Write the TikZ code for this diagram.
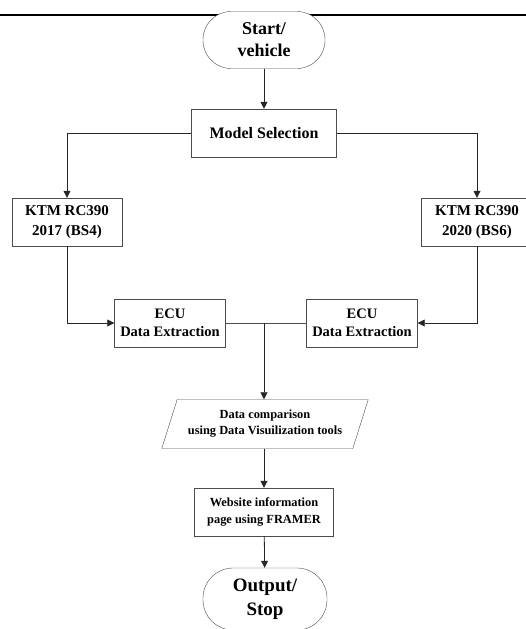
\documentclass[tikz,border=0pt]{standalone}
\usepackage{fontspec}
\setmainfont{Liberation Serif}
\usetikzlibrary{shapes, arrows.meta, positioning, calc}

\begin{document}
\begin{tikzpicture}[x=1pt, y=-1pt,
  term/.style={draw=black!70, fill=white, rounded corners=28pt, minimum width=122pt, minimum height=57pt, align=center, font=\bfseries\fontsize{18}{22}\selectfont, inner sep=2pt},
  pbox/.style={draw=black!70, fill=white, minimum height=48pt, align=center, inner sep=2pt},
  iobox/.style={draw=black!70, fill=white, trapezium, trapezium left angle=65, trapezium right angle=115, trapezium stretches=true, minimum width=207pt, minimum height=49pt, align=center, inner sep=1pt, font=\bfseries\fontsize{12.4}{16}\selectfont},
  arr/.style={-{Triangle[length=7pt, width=7pt]}, black!85, line width=0.8pt},
  lnk/.style={black!70, line width=0.8pt}
]
  \useasboundingbox (0,0) rectangle (526,629);
  \draw[line width=1.6pt] (0,15) -- (526,15);

  \node[term] (start) at (264, 40) {Start/\\vehicle};
  \node[pbox, minimum width=145pt, font=\bfseries\fontsize{16}{19}\selectfont] (model) at (264, 133) {Model Selection};
  \node[pbox, minimum width=110pt, font=\bfseries\fontsize{15}{20}\selectfont] (ktmA) at (67, 222) {KTM RC390\\2017 (BS4)};
  \node[pbox, minimum width=112pt, font=\bfseries\fontsize{15}{20}\selectfont] (ktmB) at (477, 222) {KTM RC390\\2020 (BS6)};
  \node[pbox, minimum width=111pt, font=\bfseries\fontsize{14.5}{18}\selectfont] (ecuA) at (170, 323) {ECU\\Data Extraction};
  \node[pbox, minimum width=111pt, font=\bfseries\fontsize{14.5}{18}\selectfont] (ecuB) at (362, 323) {ECU\\Data Extraction};
  \node[iobox] (cmp) at (265, 424) {Data comparison\\using Data Visuilization tools};
  \node[pbox, minimum width=139pt, font=\bfseries\fontsize{12.4}{17}\selectfont] (web) at (264, 512) {Website information\\page using FRAMER};
  \node[term, minimum width=124pt, minimum height=62pt, rounded corners=30pt, font=\bfseries\fontsize{19}{24}\selectfont] (stop) at (265, 599) {Output/\\Stop};

  \coordinate (join) at (264, 323);

  \draw[arr] (start) -- (model);
  \draw[arr] (model.west) -| (ktmA.north);
  \draw[arr] (model.east) -| (ktmB.north);
  \draw[arr] (ktmA.south) |- (ecuA.west);
  \draw[arr] (ktmB.south) |- (ecuB.east);
  \draw[lnk] (ecuA.east) -- (ecuB.west);
  \draw[arr] (join) -- (join |- cmp.north);
  \draw[arr] (cmp.south -| web.north) -- (web.north);
  \draw[arr] (web) -- (stop);
\end{tikzpicture}
\end{document}
